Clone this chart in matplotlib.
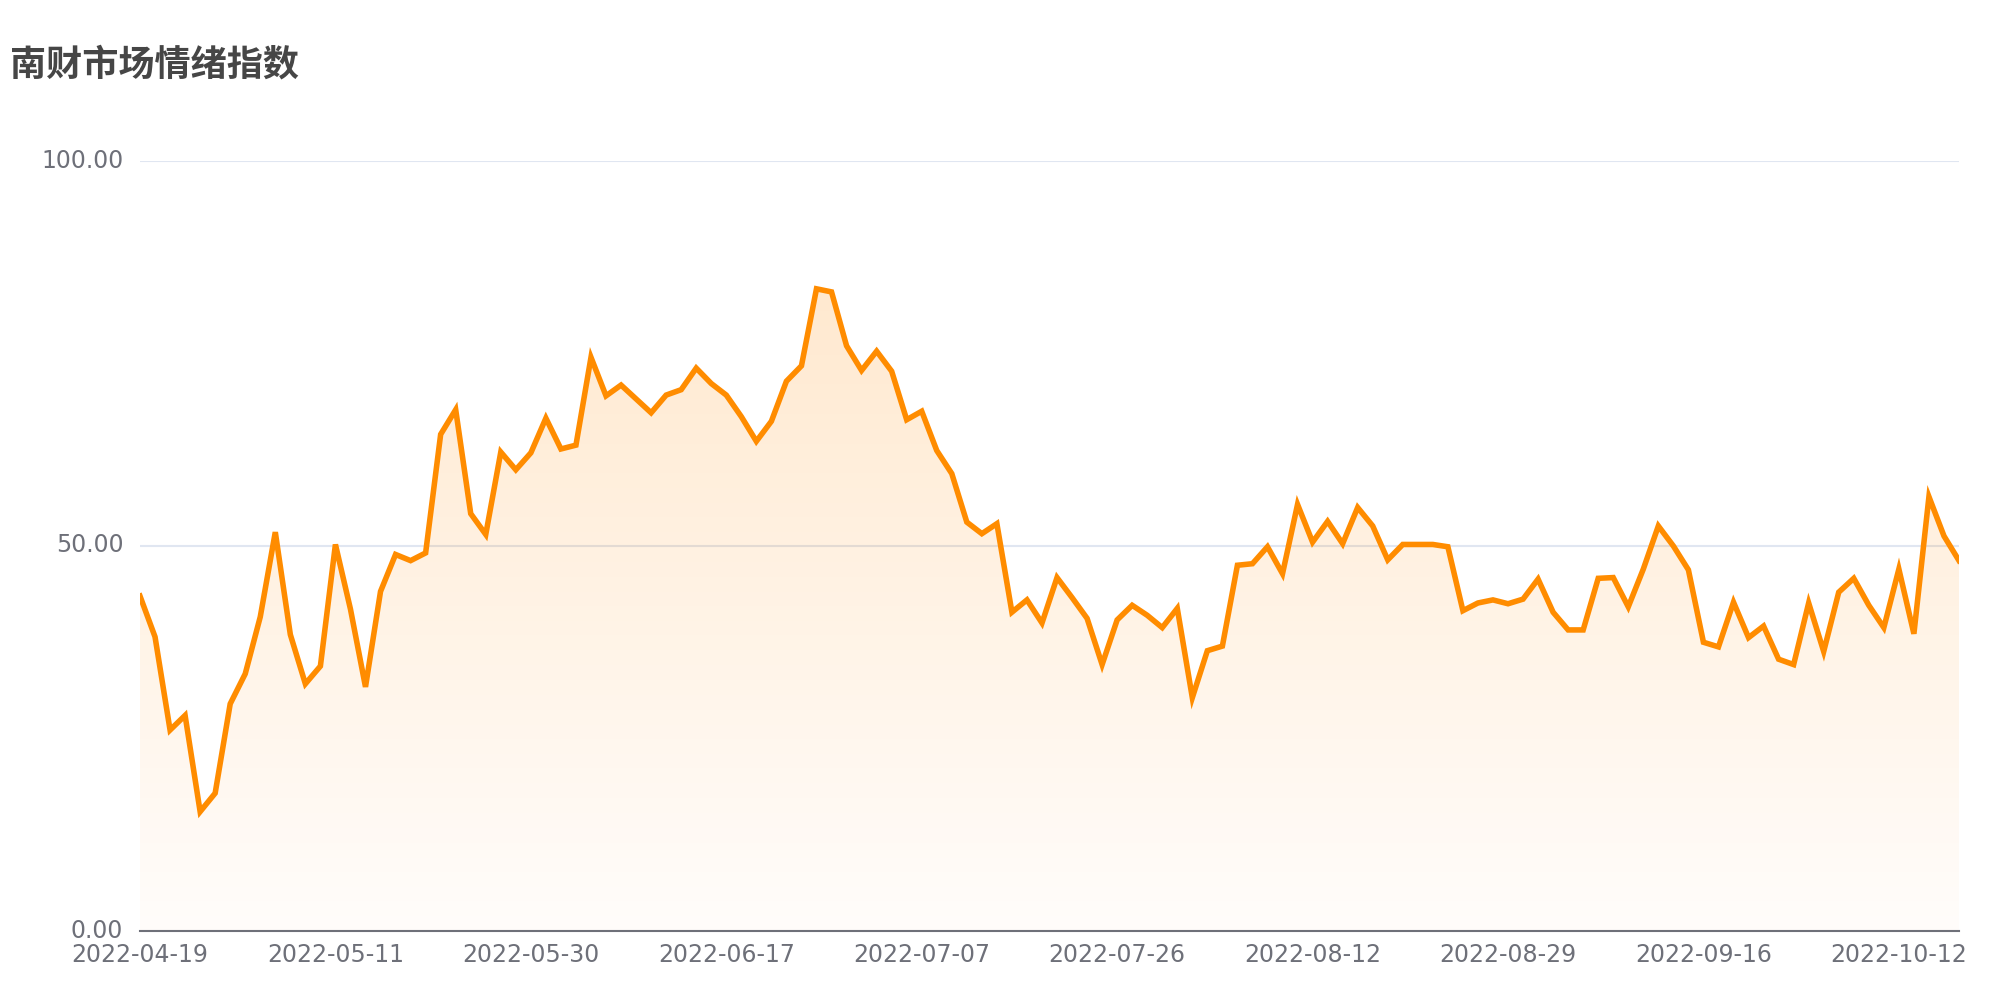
import numpy as np
import matplotlib
matplotlib.use("Agg")
import matplotlib.pyplot as plt
import matplotlib.transforms as mtransforms
from matplotlib.colors import LinearSegmentedColormap

plt.rcParams['font.family'] = ['Noto Sans CJK SC', 'DejaVu Sans']

title = "南财市场情绪指数"

values = [
    43.5, 38.2, 26.1, 28.0, 15.5, 17.9, 29.5, 33.4, 40.8, 51.8,
    38.5, 32.1, 34.4, 50.2, 41.8, 31.7, 44.1, 48.9, 48.1, 49.1,
    64.5, 67.7, 54.2, 51.5, 62.2, 59.9, 62.1, 66.6, 62.6, 63.1,
    74.5, 69.5, 70.9, 69.1, 67.3, 69.6, 70.3, 73.1, 71.1, 69.6,
    66.8, 63.6, 66.2, 71.4, 73.4, 83.4, 83.0, 76.0, 72.8, 75.3,
    72.7, 66.4, 67.5, 62.4, 59.4, 53.1, 51.6, 52.9, 41.4, 43.0,
    40.0, 45.9, 43.3, 40.6, 34.6, 40.4, 42.3, 41.0, 39.4, 41.9,
    30.3, 36.4, 37.0, 47.5, 47.7, 49.9, 46.4, 55.4, 50.5, 53.2,
    50.3, 55.0, 52.6, 48.2, 50.2, 50.2, 50.2, 49.9, 41.6, 42.6,
    43.0, 42.5, 43.1, 45.7, 41.4, 39.1, 39.1, 45.8, 45.9, 42.1,
    47.0, 52.6, 50.0, 46.9, 37.5, 36.9, 42.7, 38.1, 39.6, 35.3,
    34.6, 42.6, 36.3, 44.0, 45.8, 42.3, 39.4, 47.0, 38.6, 56.4,
    51.3, 48.1,
]

tick_labels = ["2022-04-19", "2022-05-11", "2022-05-30", "2022-06-17", "2022-07-07",
               "2022-07-26", "2022-08-12", "2022-08-29", "2022-09-16", "2022-10-12"]
tick_step = 13

y_ticks = [0, 50, 100]

line_color = "#FF8C00"
text_color = "#6E7079"
grid_color = "#E0E6F1"

fig = plt.figure(figsize=(20, 10), dpi=100)
ax = fig.add_axes([0.07, 0.069, 0.9095, 0.77])

x = np.arange(len(values))
y = np.array(values)

ax.set_xlim(0, len(values) - 1)
ax.set_ylim(0, 100)

# gradient fill under the line
poly = ax.fill_between(x, y, 0, color="none", lw=0)
cmap = LinearSegmentedColormap.from_list(
    "og", [(1.0, 0.549, 0.0, 0.02), (1.0, 0.549, 0.0, 0.19)])
grad = np.linspace(0, 1, 256).reshape(-1, 1)
im = ax.imshow(grad, extent=[0, len(values) - 1, 0, y.max()], origin="lower",
               aspect="auto", cmap=cmap, zorder=1)
path = poly.get_paths()[0]
im.set_clip_path(path, transform=ax.transData)

ax.plot(x, y, color=line_color, lw=4.0, solid_joinstyle="miter", zorder=3)

# grid and axes
for v in y_ticks[1:]:
    ax.axhline(v, color=grid_color, lw=1.5, zorder=0)
for s in ["top", "right", "left"]:
    ax.spines[s].set_visible(False)
ax.spines["bottom"].set_color(text_color)
ax.spines["bottom"].set_linewidth(1.5)
ax.spines["bottom"].set_zorder(4)

ax.set_yticks(y_ticks)
ax.set_yticklabels([f"{v:.2f}" for v in y_ticks])
ax.set_xticks(np.arange(0, tick_step * len(tick_labels), tick_step))
ax.set_xticklabels(tick_labels)
ax.tick_params(axis="y", length=0, pad=12, labelsize=17, labelcolor=text_color)
ax.tick_params(axis="x", length=0, pad=9, labelsize=17, labelcolor=text_color)
for lab in ax.get_xticklabels() + ax.get_yticklabels():
    lab.set_fontfamily(["DejaVu Sans"])
shift = mtransforms.ScaledTranslation(0, 3 / 100, fig.dpi_scale_trans)
for lab in ax.get_yticklabels():
    lab.set_transform(lab.get_transform() + shift)

fig.text(0.005, 0.935, title, fontsize=26, fontweight="bold", color="#464646",
         ha="left", va="center")

fig.savefig("out.png", dpi=100, facecolor="white")
